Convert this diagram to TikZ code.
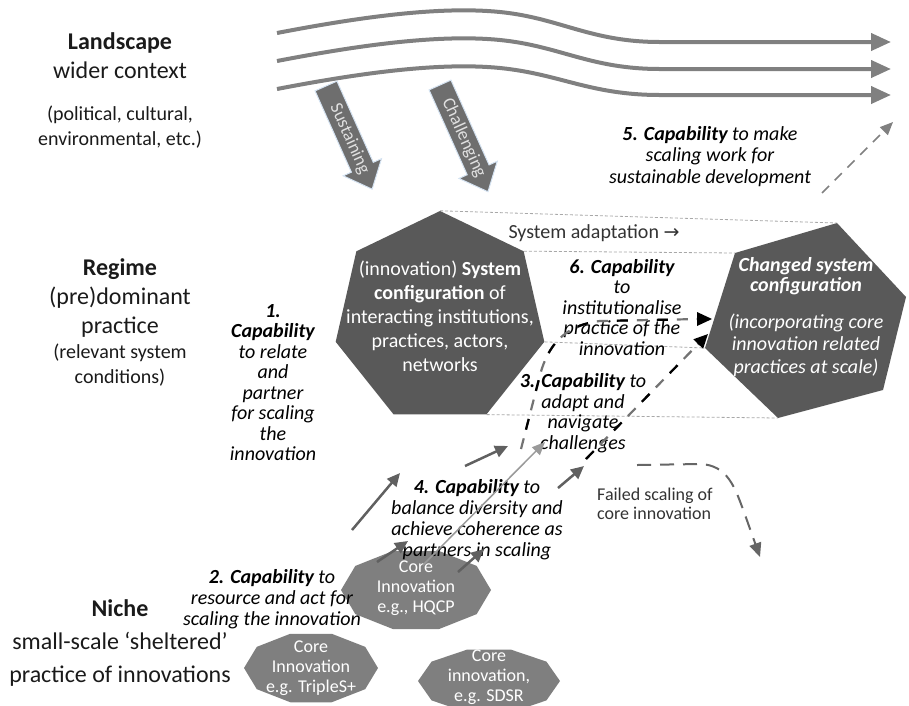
\documentclass[tikz,border=0pt]{standalone}
\usepackage{fontspec}
\setmainfont{Carlito}
\newfontfamily\symfont{DejaVu Sans}
\usetikzlibrary{arrows.meta,shapes.geometric,calc}
\definecolor{darkpoly}{HTML}{595959}
\definecolor{corefill}{HTML}{7F7F7F}
\definecolor{wave}{HTML}{808080}
\definecolor{blockfill}{HTML}{6E6E6E}
\definecolor{arrowdark}{HTML}{606060}
\definecolor{arrowlight}{HTML}{9A9A9A}
\definecolor{dotcol}{HTML}{A8A8A8}
\definecolor{txt}{HTML}{1A1A1A}
\definecolor{glow}{HTML}{D5E3F2}
\newcommand\corepoly[4]{\fill[corefill] plot[samples at={0,36,...,324}, variable=\t] ({#1+#3*cos(\t)},{#2+#4*sin(\t)}) -- cycle;}
\begin{document}
\begin{tikzpicture}[x=1pt,y=-1pt,
  lbl/.style={inner sep=0, align=center, text=txt},
  lblbig/.style={lbl, font=\fontsize{24}{29}\selectfont},
  lblsub/.style={lbl, font=\fontsize{20}{25}\selectfont},
  capl/.style={lbl, text=black, font=\fontsize{20}{20.5}\selectfont\itshape},
  polytxt/.style={lbl, text=white, font=\fontsize{20}{24}\selectfont},
  coretxt/.style={lbl, text=white, font=\fontsize{18}{20}\selectfont},
  wavearrow/.style={draw=wave, line width=4pt, -{Triangle[length=20pt,width=17pt]}},
  growarrow/.style={draw=arrowdark, line width=2.5pt, -{Triangle[length=13pt,width=12pt]}},
  growlight/.style={draw=arrowlight, line width=1.5pt, -{Triangle[length=13pt,width=11pt]}},
  dotline/.style={draw=dotcol, line width=0.8pt, dash pattern=on 3pt off 2pt},
  graydash/.style={draw=black!55, line width=2.2pt, dash pattern=on 11pt off 9pt},
  blackdash/.style={draw=black, line width=2.2pt, dash pattern=on 11pt off 29pt},
  blocktext/.style={inner sep=0, text=white!88!black, font=\fontsize{18}{20}\selectfont}
]
\useasboundingbox (0,0) rectangle (909,705);

% ---- landscape wavy arrows
\draw[wavearrow] (277,33) .. controls (360,17) and (440,6) .. (500,12) .. controls (560,18) and (590,42) .. (660,42) -- (891,42);
\draw[wavearrow] (277,61) .. controls (360,45) and (440,34) .. (500,40) .. controls (560,46) and (590,69) .. (660,69) -- (891,69);
\draw[wavearrow] (277,89) .. controls (360,73) and (440,62) .. (500,68) .. controls (560,74) and (590,95) .. (660,95) -- (891,95);

% ---- block arrows
\begin{scope}[shift={(326,86)}, rotate=-65.9]
  \filldraw[fill=blockfill, draw=glow, line width=1pt] (0,-12) -- (89,-12) -- (89,-21) -- (113,0) -- (89,21) -- (89,12) -- (0,12) -- cycle;
  \node[blocktext, rotate=-65.9] (sust) at (58,0) {Sustaining};
\end{scope}
\begin{scope}[shift={(440,85)}, rotate=-65.8]
  \filldraw[fill=blockfill, draw=glow, line width=1pt] (0,-12) -- (93,-12) -- (93,-21) -- (117,0) -- (93,21) -- (93,12) -- (0,12) -- cycle;
  \node[blocktext, rotate=-65.8] (chal) at (58,0) {Challenging};
\end{scope}

% ---- system configuration heptagon
\node[regular polygon, regular polygon sides=7, minimum size=214pt, inner sep=0, fill=darkpoly] (sys) at (440,318) {};
\node[polytxt] (systxt) at (440,316) {(innovation) \textbf{System}\\\textbf{configuration} of\\interacting institutions,\\practices, actors,\\networks};

% ---- changed system configuration
\coordinate (cg1) at (837,223);
\coordinate (cg2) at (906,297);
\coordinate (cg3) at (883,390);
\coordinate (cg4) at (778,418);
\coordinate (cg5) at (705,348);
\coordinate (cg6) at (735,253);
\fill[darkpoly] (cg1) -- (cg2) -- (cg3) -- (cg4) -- (cg5) -- (cg6) -- cycle;
\node[lbl, text=white, font=\fontsize{20}{20.5}\selectfont\bfseries\itshape] (chg1) at (806,276) {Changed system\\configuration};
\node[lbl, text=white, font=\fontsize{20}{22.5}\selectfont\itshape] (chg2) at (806,345) {(incorporating core\\innovation related\\practices at scale)};

% ---- dotted band
\draw[dotline] (sys.corner 1) -- (cg1);
\draw[dotline] (sys.corner 7) -- (cg6);
\draw[dotline] (sys.corner 6) -- (cg5);
\draw[dotline] (sys.corner 5) -- (cg4);
\node[lbl, text=black!80, font=\fontsize{20}{24}\selectfont] (sysad) at (594,233) {System adaptation {\symfont\fontsize{19}{20}\selectfont →}};

% ---- left labels
\node[lblbig] (land1) at (120,55.5) {\textbf{Landscape}\\wider context};
\node[lblsub] (land2) at (120,127) {(political, cultural,\\environmental, etc.)};
\node[lblbig] (reg1) at (120,298) {\textbf{Regime}\\(pre)dominant\\practice};
\node[lblsub] (reg2) at (120,365) {(relevant system\\conditions)};
\node[lbl, font=\fontsize{24}{33}\selectfont] (niche) at (120,643) {\textbf{Niche}\\small-scale ‘sheltered’\\practice of innovations};

% ---- core innovations
\corepoly{416}{590}{75}{41}
\corepoly{311}{668}{67}{36}
\corepoly{489}{681}{71}{33}
\node[coretxt] (hq) at (416,588) {Core\\Innovation\\e.g., HQCP};
\node[coretxt] (tri) at (311,668) {Core\\Innovation\\e.g. TripleS+};
\node[coretxt] (sd) at (489,677) {Core\\innovation,\\e.g. SDSR};

% ---- capability labels
\node[capl] (cap1) at (273,382.5) {\textbf{1.}\\\textbf{Capability}\\to relate\\and\\partner\\for scaling\\the\\innovation};
\node[capl, font=\fontsize{20}{21}\selectfont\itshape] (cap2) at (272,599) {\textbf{2. Capability} to\\resource and act for\\scaling the innovation};
\node[capl] (cap3) at (583,413) {\textbf{3. Capability} to\\adapt and\\navigate\\challenges};
\node[capl, font=\fontsize{20}{21}\selectfont\itshape] (cap4) at (477,519.5) {\textbf{4. Capability} to\\balance diversity and\\achieve coherence as\\partners in scaling};
\node[capl, font=\fontsize{20}{21.5}\selectfont\itshape] (cap5) at (710,156.5) {\textbf{5. Capability} to make\\scaling work for\\sustainable development};
\node[capl] (cap6) at (622,307.5) {\textbf{6. Capability}\\to\\institutionalise\\practice of the\\innovation};
\node[lbl, align=left, anchor=west, text=black!80, font=\fontsize{18}{19}\selectfont] (failed) at (597,504) {Failed scaling of\\core innovation};

% ---- growth arrows
\coordinate (a1s) at (352,530); \coordinate (a1e) at (400,473);
\coordinate (a2s) at (465,466); \coordinate (a2e) at (508,446);
\coordinate (a3s) at (558,488); \coordinate (a3e) at (584,466);
\coordinate (a4s) at (377,562); \coordinate (a4e) at (408,541);
\coordinate (a5s) at (458,572); \coordinate (a5e) at (484,549);
\coordinate (a6s) at (423,565); \coordinate (a6e) at (545,442);
\draw[growarrow] (a1s) -- (a1e);
\draw[growarrow] (a2s) -- (a2e);
\draw[growarrow] (a3s) -- (a3e);
\draw[growarrow] (a4s) -- (a4e);
\draw[growarrow] (a5s) -- (a5e);
\draw[growlight] (a6s) -- (a6e);

% ---- dashed paths to changed configuration
\coordinate (p6s) at (521,449);
\coordinate (p6e) at (712,319);
\coordinate (p3s) at (586,459);
\coordinate (p3e) at (708,334);
\draw[graydash] (p6s) -- (540,375) .. controls (548,345) and (565,325) .. (600,321) -- ($(p6e)+(-12,0)$);
\draw[blackdash, dash phase=-20pt] (p6s) -- (540,375) .. controls (548,345) and (565,325) .. (600,321) -- ($(p6e)+(-12,0)$);
\fill[black] (p6e) -- ++(-15,-7) -- ++(0,14) -- cycle;
\draw[graydash, -{Triangle[length=14pt,width=13pt,fill=black,color=black]}] (p3s) -- (p3e);
\draw[blackdash] (p3s) -- ($(p3s)!0.88!(p3e)$);

% ---- capability 5 arrow and failed scaling
\coordinate (c5s) at (822,193);
\coordinate (c5e) at (893,122);
\draw[draw=wave, line width=1.6pt, dash pattern=on 10pt off 8pt, -{Triangle[length=13pt,width=11pt]}] (c5s) -- (c5e);
\coordinate (fs) at (637,465);
\coordinate (fe) at (760,557);
\draw[draw=black!60, line width=2pt, dash pattern=on 14pt off 9pt, -{Triangle[length=14pt,width=12pt]}] (fs) -- (700,464) .. controls (728,465) and (735,488) .. (744,512) -- (fe);
\end{tikzpicture}
\end{document}
